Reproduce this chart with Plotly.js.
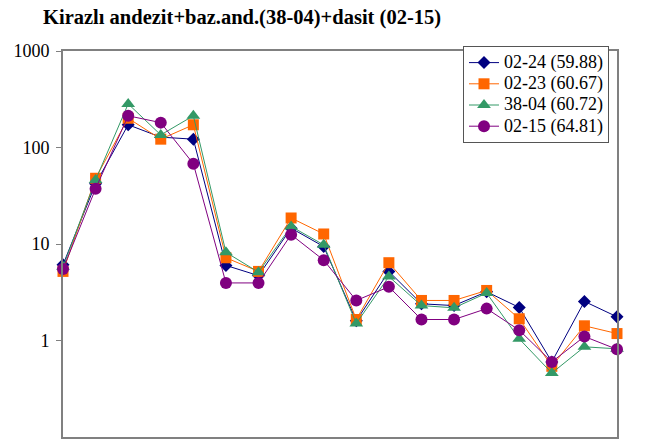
<!DOCTYPE html>
<html>
<head>
<meta charset="utf-8">
<script src="https://cdn.plot.ly/plotly-3.0.1.min.js"></script>
<style>html,body{margin:0;padding:0;background:#fff;}#chart{width:649px;height:439px;}</style>
</head>
<body>
<div id="chart"></div>
<script>
var titleText = "Kirazlı andezit+baz.and.(38-04)+dasit (02-15)";
var categories = [1,2,3,4,5,6,7,8,9,10,11,12,13,14,15,16,17,18];
var seriesNames = ["02-24 (59.88)", "02-23 (60.67)", "38-04 (60.72)", "02-15 (64.81)"];
var s0224 = [6.1, 42, 172, 128, 122, 6.0, 4.7, 14.6, 9.4, 1.6, 5.2, 2.4, 2.3, 3.2, 2.2, 0.6, 2.54, 1.76];
var s0223 = [5.2, 48, 201, 122, 172, 7.2, 5.2, 18.6, 12.7, 1.65, 6.4, 2.6, 2.6, 3.3, 1.68, 0.54, 1.42, 1.18];
var s3804 = [5.8, 46, 283, 135, 213, 8.2, 5.1, 15.2, 9.8, 1.5, 4.6, 2.3, 2.18, 3.1, 1.04, 0.46, 0.86, 0.82];
var s0215 = [5.5, 37.4, 213, 181, 67.8, 3.95, 3.95, 12.5, 6.8, 2.6, 3.6, 1.65, 1.65, 2.14, 1.28, 0.6, 1.1, 0.81];
var yTickVals = [1, 10, 100, 1000];
var yTickText = ["1", "10", "100", "1000"];

var colors = ["#000080", "#FF6600", "#339966", "#800080"];
var symbols = ["diamond", "square", "triangle-up", "circle"];
var sizes = [10, 11, 12, 12];
var data = [s0224, s0223, s3804, s0215];

var traces = data.map(function(vals, i){
  return {
    x: categories.map(function(c, j){ return j; }),
    y: vals,
    name: '<span style="font-size:18px">' + seriesNames[i] + '</span>',
    type: "scatter",
    mode: "lines+markers",
    cliponaxis: false,
    line: {color: colors[i], width: 1},
    marker: {symbol: symbols[i], size: sizes[i], color: colors[i], line: {width: 0}}
  };
});

var serif = "Liberation Serif, Times New Roman, serif";
var layout = {
  width: 649, height: 439,
  margin: {l: 63, r: 32, t: 51, b: 2, pad: 0},
  paper_bgcolor: "#fff", plot_bgcolor: "#fff",
  showlegend: true,
  title: {text: "<b>" + titleText + "</b>", x: 43/649, xanchor: "left", y: 1 - 17/439, yanchor: "middle",
          font: {family: serif, size: 20.5, color: "#000"}},
  xaxis: {range: [0, categories.length - 1], showgrid: false, zeroline: false, showticklabels: false,
          ticks: "", showline: true, linecolor: "#808080", linewidth: 2, mirror: true},
  yaxis: {type: "log", range: [-1, 3], showgrid: false, zeroline: false,
          tickvals: yTickVals, ticktext: yTickText, ticks: "outside", ticklen: 5, tickcolor: "#808080",
          ticklabelstandoff: 3,
          tickfont: {family: serif, size: 18, color: "#000"},
          showline: true, linecolor: "#808080", linewidth: 2, mirror: true},
  legend: {x: (463-63)/554, xanchor: "left", y: 1 + 5/386, yanchor: "top",
           bgcolor: "#fff", bordercolor: "#555", borderwidth: 1,
           font: {family: serif, size: 14, color: "#000"},
           tracegroupgap: 0, itemwidth: 30}
};

Plotly.newPlot("chart", traces, layout, {displayModeBar: false, staticPlot: true});
</script>
</body>
</html>
